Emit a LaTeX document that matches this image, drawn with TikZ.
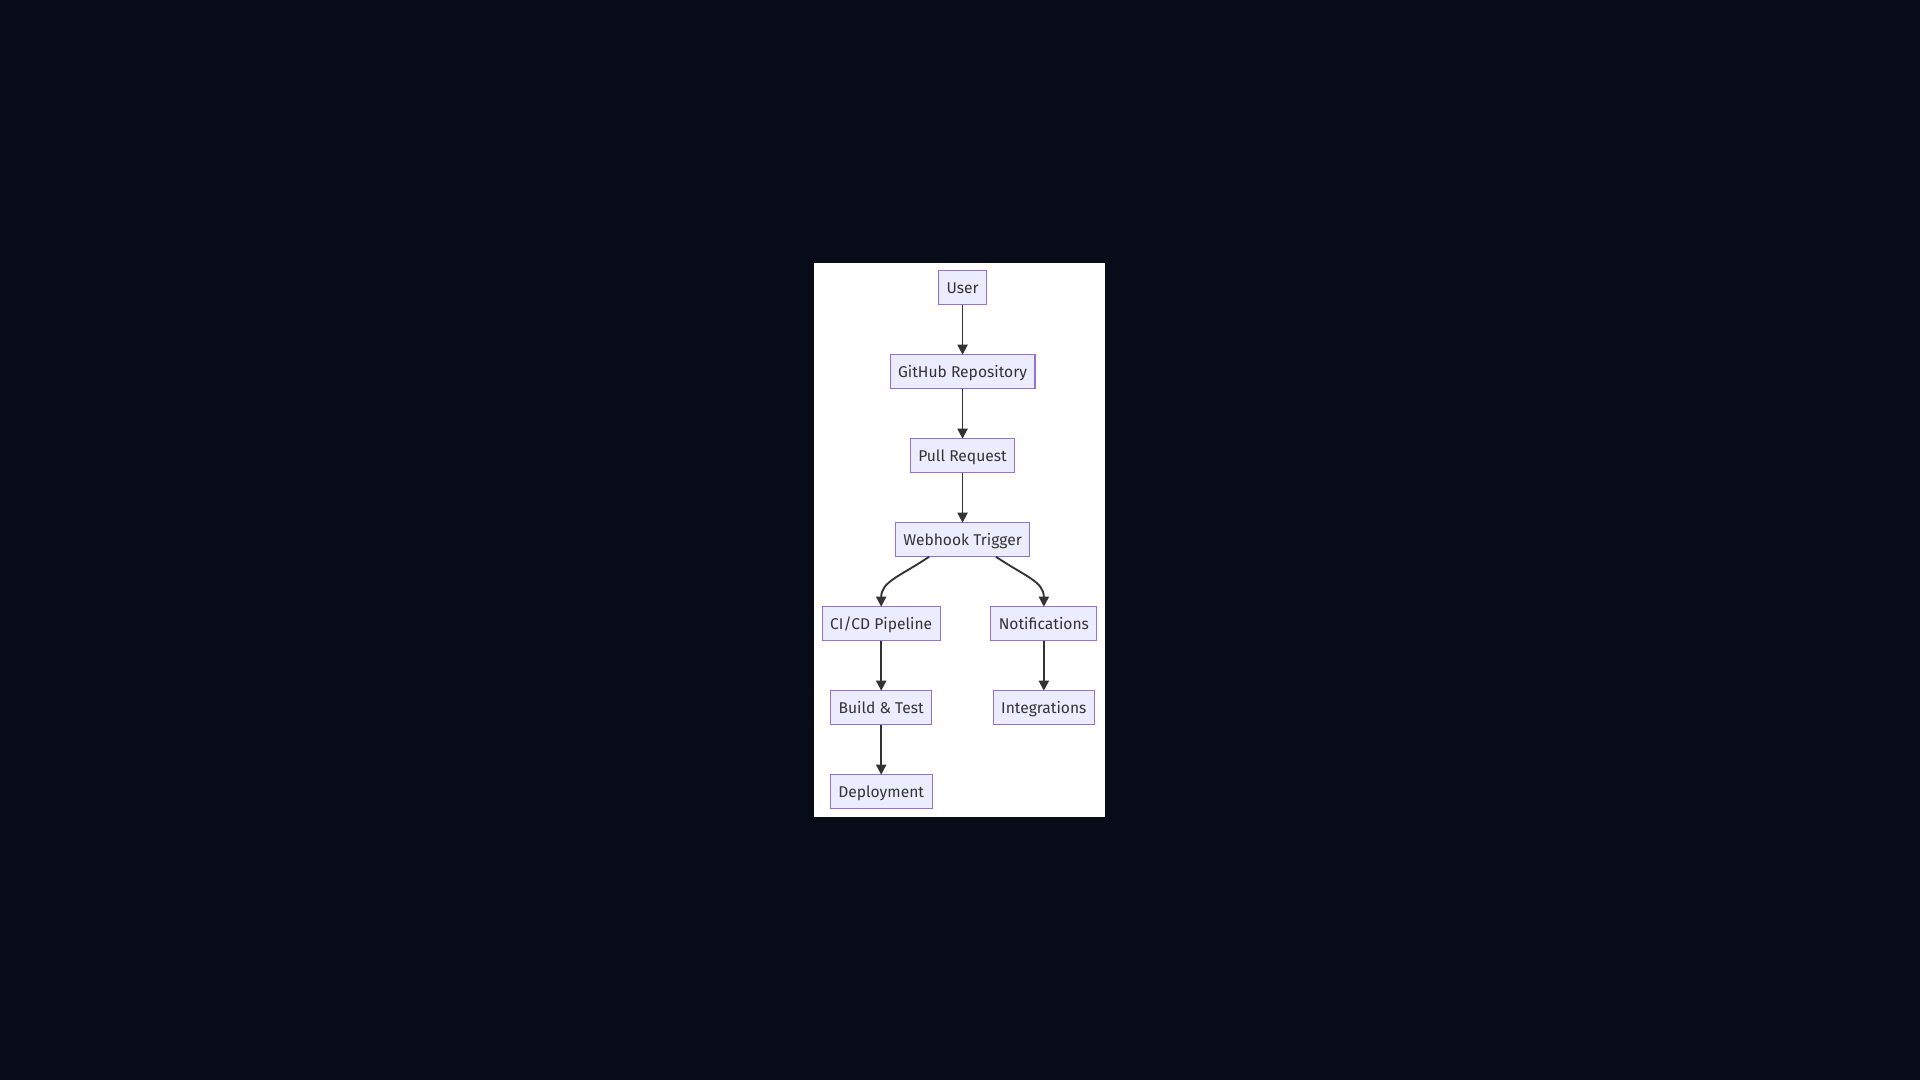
\documentclass[tikz,border=0pt]{standalone}
\usepackage{fontspec}
\setmainfont{Fira Sans}
\usetikzlibrary{positioning,arrows.meta}
\definecolor{canvas}{HTML}{080C18}
\definecolor{boxfill}{HTML}{ECECFF}
\definecolor{boxline}{HTML}{9370DB}
\definecolor{ink}{HTML}{333333}
\begin{document}
\begin{tikzpicture}

			\tikzstyle{step box}=[fill=boxfill,draw=boxline,line width=0.8pt,
				text=ink,font=\fontsize{11.7}{14}\selectfont,
				inner xsep=6pt,inner ysep=0pt,outer sep=0pt,
				text height=8.5pt,text depth=0pt,minimum height=25.5pt,
				node distance=37.5pt]
			\tikzstyle{flow}=[draw=ink,line width=1.4pt,
				-{Triangle[length=7.5pt,width=7.5pt]}]

			% page and white panel
			\fill[canvas] (-721.9pt,215.8pt) rectangle (718.1pt,-594.2pt);
			\useasboundingbox (-721.9pt,215.8pt) rectangle (718.1pt,-594.2pt);
			\fill[white] (-111.4pt,18.5pt) rectangle (106.9pt,-397pt);

			\node[step box]		(user)	{User};
			\node[step box,below=of user]	(repo)	{GitHub Repository};
			\node[step box,below=of repo]	(pr)	{Pull Request};
			\node[step box,below=of pr]	(hook)	{Webhook Trigger};
			\node[step box,below=of hook,xshift=-61pt]	(ci)	{CI/CD Pipeline};
			\node[step box,below=of hook,xshift=61pt]	(notify)	{Notifications};
			\node[step box,below=of ci]	(build)	{Build \& Test};
			\node[step box,below=of notify]	(integ)	{Integrations};
			\node[step box,below=of build]	(deploy)	{Deployment};

			\draw[flow] (user) -- (repo);
			\draw[flow] (repo) -- (pr);
			\draw[flow] (pr) -- (hook);
			\draw[flow] ([xshift=-25pt]hook.south)
				.. controls +(-22.5pt,-15pt) and +(0,18.75pt) .. (ci.north);
			\draw[flow] ([xshift=25pt]hook.south)
				.. controls +(22.5pt,-15pt) and +(0,18.75pt) .. (notify.north);
			\draw[flow] (ci) -- (build);
			\draw[flow] (build) -- (deploy);
			\draw[flow] (notify) -- (integ);

			\end{tikzpicture}
\end{document}
